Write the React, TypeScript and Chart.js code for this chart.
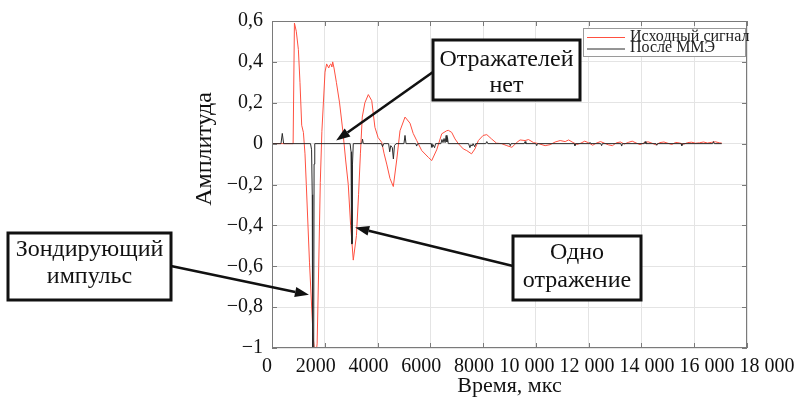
import React, { useEffect, useRef } from "react";
import { Chart, registerables } from "chart.js";

Chart.register(...registerables);

// ---- Data ----
const redTime = [
  0, 800, 850, 920, 1000, 1060, 1125, 1190, 1250, 1300, 1420, 1560, 1650, 1710, 1770, 1830, 1890,
  2009, 2070, 2110, 2150, 2190, 2230, 2270, 2300, 2350, 2440, 2560, 2690, 2790, 2890, 2980, 3080,
  3200, 3280, 3350, 3420, 3520, 3650, 3780, 3900, 4020, 4158, 4250, 4347, 4470, 4597, 4726, 4851,
  5041, 5230, 5350, 5484, 5674, 5924, 6053, 6242, 6432, 6620, 6682, 6810, 6935, 7060, 7250, 7380,
  7560, 7690, 7820, 8000, 8140, 8320, 8510, 8700, 8900, 9090, 9280, 9400, 9590, 9720, 9910, 10100,
  10350, 10540, 10730, 10920, 11110, 11240, 11400, 11550, 11700, 11850, 12000, 12150, 12300, 12450,
  12600, 12750, 12900, 13050, 13200, 13350, 13500, 13650, 13800, 13950, 14100, 14250, 14400, 14550,
  14700, 14850, 15000, 15150, 15300, 15450, 15600, 15750, 15900, 16050, 16200, 16350, 16500, 16650,
  16800, 16950, 17050,
];
const redAmp = [
  0, 0, 0.59, 0.55, 0.46, 0.3, 0.09, 0.055, -0.05, -0.2, -0.58, -0.95, -1.05, -0.98, -0.6, -0.19, 0.06,
  0.35, 0.39, 0.38, 0.37, 0.385, 0.39, 0.375, 0.4, 0.37, 0.3, 0.2, 0.055, -0.08, -0.2, -0.4, -0.57,
  -0.45, -0.25, -0.05, 0.13, 0.2, 0.24, 0.21, 0.08, 0.03, 0.006, -0.05, -0.1, -0.17, -0.21, -0.08, 0.063,
  0.13, 0.1, 0.05, 0.015, -0.034, -0.067, -0.083, -0.03, 0.048, 0.063, 0.065, 0.055, 0.023, 0, -0.026, -0.034,
  -0.05, -0.026, 0.015, 0.04, 0.044, 0.023, 0.002, 0, -0.01, -0.018, 0.006, 0.018, 0.015, 0.02, 0.005, 0,
  -0.01, -0.005, 0.008, 0.015, 0.01, 0.018, 0.006, -0.004, 0.002, 0.012, 0.004, -0.008, 0.003, 0.01,
  0.002, -0.006, -0.01, 0.004, 0.008, -0.002, 0.006, 0.012, 0.003, -0.005, 0.004, 0.009, 0.002, -0.006,
  0.005, 0.008, 0.002, -0.004, 0.006, 0.003, -0.003, 0.005, 0.007, 0.002, 0.004, 0.008, 0.003, 0.006,
  0.009, 0.004, 0.002,
];

const mmeTime = [
  0, 340, 390, 440, 1460, 1500, 1525, 1540, 1580, 1595, 1620, 2960, 2995, 3010, 3020, 3040, 3050, 3080,
  3400, 3430, 3460, 4150, 4190, 4230, 4420, 4460, 4500, 4560, 4600, 4640, 4700, 5000, 5040, 5080, 5450,
  5480, 5520, 6030, 6060, 6100, 6160, 6200, 6400, 6440, 6480, 6520, 6560, 6600, 6630, 6650, 6680, 7450,
  7500, 7540, 7580, 7620, 7680, 7720, 8100, 8140, 8180, 9000, 9030, 9060, 9560, 9590, 9620, 10000, 10030,
  10060, 11450, 11480, 11510, 12020, 12050, 12080, 12460, 12490, 12520, 13220, 13250, 13280, 14110, 14140,
  14170, 14550, 14580, 14610, 15500, 15530, 15560, 16700, 16730, 16760, 17040,
];
const mmeAmp = [
  0, 0, 0.05, 0, 0, -0.03, -0.25, -1.0, -1.0, -0.1, 0, 0, -0.04, -0.3, -0.49, -0.49, -0.1, 0,
  0, 0.022, 0, 0, -0.015, 0, 0, -0.04, -0.01, -0.02, -0.075, -0.01, 0, 0, 0.04, 0, 0,
  -0.012, 0, 0, -0.018, -0.005, -0.02, 0, 0, 0.02, 0.005, 0.025, 0.005, 0.04, 0.008, 0.03, 0, 0,
  -0.02, -0.005, -0.012, 0, -0.015, 0, 0, 0.01, 0, 0, -0.01, 0, 0, 0.01, 0, 0, -0.01,
  0, 0, -0.01, 0, 0, 0.006, 0, 0, -0.01, 0, 0, -0.012, 0, 0, 0.01,
  0, 0, -0.008, 0, 0, -0.01, 0, 0, 0.01, 0, 0,
];

const seriesLabels = ["Исходный сигнал", "После ММЭ"];
const xTickValues = [0, 2000, 4000, 6000, 8000, 10000, 12000, 14000, 16000, 18000];
const yTickValues = [0.6, 0.4, 0.2, 0, -0.2, -0.4, -0.6, -0.8, -1];
const xTitle = "Время, мкс";
const yTitle = "Амплитуда";
const noteProbe = ["Зондирующий", "импульс"];
const noteNone = ["Отражателей", "нет"];
const noteOne = ["Одно", "отражение"];
// arrow tips in data coordinates
const tipProbe = { x: 1400, y: -0.74 };
const tipNone = { x: 2430, y: 0.015 };
const tipOne = { x: 3150, y: -0.41 };

const FONT = '"Liberation Serif", "Times New Roman", serif';
const RED = "#ff5040";
const BLACK = "#2a2a2a";

function fmtX(v: number) {
  const s = String(Math.round(v));
  if (s.length > 4) return s.slice(0, s.length - 3) + " " + s.slice(-3);
  return s;
}
function fmtY(v: number) {
  const r = Math.round(v * 10) / 10;
  if (r === 0) return "0";
  const abs = Math.abs(r);
  const s = (abs % 1 === 0 ? abs.toFixed(0) : abs.toFixed(1)).replace(".", ",");
  return r < 0 ? "\u2212" + s : s;
}

function drawArrow(ctx: CanvasRenderingContext2D, x1: number, y1: number, x2: number, y2: number) {
  const ang = Math.atan2(y2 - y1, x2 - x1);
  const hl = 14, hw = 5;
  const bx = x2 - hl * Math.cos(ang), by = y2 - hl * Math.sin(ang);
  ctx.beginPath();
  ctx.moveTo(x1, y1);
  ctx.lineTo(bx, by);
  ctx.lineWidth = 2.6;
  ctx.strokeStyle = "#111";
  ctx.stroke();
  ctx.beginPath();
  ctx.moveTo(x2, y2);
  ctx.lineTo(bx + hw * Math.sin(ang), by - hw * Math.cos(ang));
  ctx.lineTo(bx - hw * Math.sin(ang), by + hw * Math.cos(ang));
  ctx.closePath();
  ctx.fillStyle = "#111";
  ctx.fill();
}

function drawBox(ctx: CanvasRenderingContext2D, x1: number, y1: number, x2: number, y2: number, lines: string[], ys: number[]) {
  ctx.fillStyle = "#fff";
  ctx.fillRect(x1, y1, x2 - x1, y2 - y1);
  ctx.lineWidth = 3;
  ctx.strokeStyle = "#111";
  ctx.strokeRect(x1, y1, x2 - x1, y2 - y1);
  ctx.fillStyle = "#111";
  ctx.font = "24px " + FONT;
  ctx.textAlign = "center";
  ctx.textBaseline = "middle";
  const cx = (x1 + x2) / 2;
  lines.forEach((t, i) => ctx.fillText(t, cx, ys[i]));
}

const decor = {
  id: "decor",
  afterDraw(chart: any) {
    const ctx: CanvasRenderingContext2D = chart.ctx;
    const { left, right, top, bottom } = chart.chartArea;
    const xs = chart.scales.x, ys = chart.scales.y;
    ctx.save();
    // frame
    ctx.strokeStyle = "#7a7a7a";
    ctx.lineWidth = 1;
    ctx.strokeRect(left + 0.5, top + 0.5, right - left - 1, bottom - top - 1);
    // inward ticks
    ctx.beginPath();
    xTickValues.forEach((v) => {
      const p = Math.round(xs.getPixelForValue(v)) + 0.5;
      ctx.moveTo(p, bottom); ctx.lineTo(p, bottom - 5);
      ctx.moveTo(p, top); ctx.lineTo(p, top + 5);
    });
    yTickValues.forEach((v) => {
      const p = Math.round(ys.getPixelForValue(v)) + 0.5;
      ctx.moveTo(left, p); ctx.lineTo(left + 5, p);
      ctx.moveTo(right, p); ctx.lineTo(right - 5, p);
    });
    ctx.stroke();

    // x tick labels, laid out left to right without overlapping
    ctx.fillStyle = "#111";
    ctx.font = "20px " + FONT;
    ctx.textBaseline = "middle";
    ctx.textAlign = "center";
    let prevRight = -Infinity;
    xTickValues.forEach((v, i) => {
      const t = fmtX(v);
      const w = ctx.measureText(t).width;
      const base = xs.getPixelForValue(v) - (i === 0 ? 5 : 9);
      const cx = Math.max(base, prevRight + 5 + w / 2);
      prevRight = cx + w / 2;
      ctx.fillText(t, cx, 367);
    });

    // axis titles
    ctx.font = "22px " + FONT;
    ctx.fillText(xTitle, (left + right) / 2, 386);
    ctx.save();
    ctx.translate(205, 149);
    ctx.rotate(-Math.PI / 2);
    ctx.font = "24px " + FONT;
    ctx.fillText(yTitle, 0, 0);
    ctx.restore();

    // legend
    ctx.fillStyle = "#fff";
    ctx.fillRect(583, 28, 162, 28);
    ctx.strokeStyle = "#9a9a9a";
    ctx.lineWidth = 1;
    ctx.strokeRect(583.5, 28.5, 162, 28);
    const colors = [RED, BLACK];
    const ly = [36.5, 48];
    ctx.font = "16px " + FONT;
    ctx.textAlign = "left";
    seriesLabels.forEach((lab, i) => {
      ctx.beginPath();
      ctx.moveTo(587, ly[i] + 1);
      ctx.lineTo(625, ly[i] + 1);
      ctx.strokeStyle = colors[i];
      ctx.lineWidth = 1;
      ctx.stroke();
      ctx.fillStyle = "#222";
      ctx.fillText(lab, 630, ly[i]);
    });

    // annotations
    drawArrow(ctx, 433, 72, xs.getPixelForValue(tipNone.x), ys.getPixelForValue(tipNone.y));
    drawArrow(ctx, 171, 266, xs.getPixelForValue(tipProbe.x), ys.getPixelForValue(tipProbe.y));
    drawArrow(ctx, 513, 266, xs.getPixelForValue(tipOne.x), ys.getPixelForValue(tipOne.y));
    drawBox(ctx, 433, 40, 580, 100, noteNone, [60, 86]);
    drawBox(ctx, 8, 233, 171, 300, noteProbe, [250, 277]);
    drawBox(ctx, 513, 236, 641, 300, noteOne, [253, 281]);
    ctx.restore();
  },
};

export default function App() {
  const ref = useRef<HTMLCanvasElement | null>(null);
  useEffect(() => {
    if (!ref.current) return;
    const chart = new Chart(ref.current, {
      type: "line",
      data: {
        datasets: [
          {
            label: seriesLabels[0],
            data: redTime.map((t, i) => ({ x: t, y: redAmp[i] })),
            borderColor: RED,
            borderWidth: 1,
            pointRadius: 0,
            tension: 0,
            order: 2,
          },
          {
            label: seriesLabels[1],
            data: mmeTime.map((t, i) => ({ x: t, y: mmeAmp[i] })),
            borderColor: BLACK,
            borderWidth: 1,
            pointRadius: 0,
            tension: 0,
            order: 1,
          },
        ],
      },
      options: {
        animation: false,
        responsive: false,
        maintainAspectRatio: false,
        layout: { padding: { left: 0, right: 48, top: 20, bottom: 0 } },
        plugins: { legend: { display: false }, tooltip: { enabled: false } },
        scales: {
          x: {
            type: "linear",
            min: 0,
            max: 18000,
            afterFit: (s: any) => { s.height = 53; },
            afterBuildTicks: (s: any) => { s.ticks = xTickValues.map((v) => ({ value: v })); },
            ticks: { display: false },
            grid: { color: "#e4e4e4", drawTicks: false },
            border: { display: false },
          },
          y: {
            type: "linear",
            min: -1,
            max: 0.6,
            afterFit: (s: any) => { s.width = 272; },
            afterBuildTicks: (s: any) => { s.ticks = yTickValues.map((v) => ({ value: v })); },
            ticks: {
              padding: 9,
              color: "#111",
              font: { family: FONT, size: 20 },
              callback: (v: any) => fmtY(Number(v)),
            },
            grid: { color: "#e4e4e4", drawTicks: false },
            border: { display: false },
          },
        },
      },
      plugins: [decor],
    });
    return () => chart.destroy();
  }, []);
  return (
    <div style={{ position: "absolute", left: 0, top: 0, width: 795, height: 401 }}>
      <canvas ref={ref} width={795} height={401} />
    </div>
  );
}
